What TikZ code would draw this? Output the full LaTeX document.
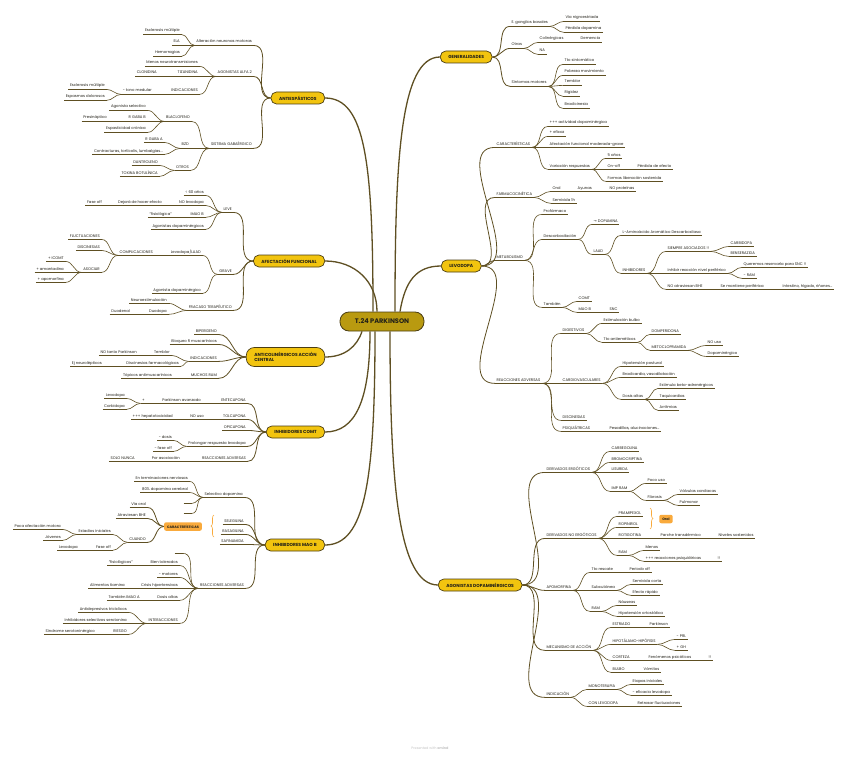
\documentclass[tikz,border=0pt]{standalone}
\usepackage{fontspec}
\setmainfont{Poppins}
\newfontfamily\arrowfont{DejaVu Sans}
\usetikzlibrary{decorations.pathreplacing}
\definecolor{mapink}{HTML}{222018}
\definecolor{mapline}{HTML}{5E4F22}
\definecolor{mapedge}{HTML}{4A3D12}
\definecolor{mapgold}{HTML}{F2C40F}
\definecolor{mapolive}{HTML}{B99A10}
\definecolor{maporange}{HTML}{F9AA3C}
\definecolor{mapmuted}{HTML}{C4C4C4}
\newcommand\leafsize{\fontsize{3.8}{4.4}\selectfont}
\newcommand\branchsize{\fontsize{4.4}{5.6}\selectfont}
\newcommand\centresize{\fontsize{6.6}{8}\selectfont}
\newcommand\notesize{\fontsize{3.4}{4}\selectfont}
\tikzset{
  trunkline/.style={draw=mapline, line width=1.3pt},
  limbline/.style={draw=mapline, line width=.8pt},
  twigline/.style={draw=mapline, line width=.6pt},
  maptopic/.style={font=\leafsize, text=mapink, inner xsep=1.5pt, inner ysep=1.3pt,
    text height=2.9pt, text depth=.9pt,
    append after command={(\tikzlastnode.south west) edge[twigline] (\tikzlastnode.south east)}},
  topicR/.style={maptopic, anchor=west},
  topicL/.style={maptopic, anchor=east},
  blankR/.style={topicR, minimum width=8pt},
  blankL/.style={topicL, minimum width=8pt},
  branch/.style={draw=mapedge, fill=mapgold, line width=.7pt, rounded corners=5.5pt,
    font=\branchsize\bfseries, text=mapink, inner xsep=8pt, inner ysep=2pt,
    minimum height=12pt},
  centre/.style={draw=mapedge, fill=mapolive, line width=.8pt, rounded corners=9pt,
    font=\centresize\bfseries, text=mapink, minimum width=84pt, minimum height=19pt},
  summary/.style={fill=maporange, rounded corners=2pt, font=\notesize\bfseries,
    text=mapink, inner xsep=3pt, inner ysep=1.5pt, minimum height=8.5pt},
  summarybrace/.style={draw=maporange, line width=.6pt, decorate,
    decoration={brace, amplitude=3pt}}
}

\begin{document}
\begin{tikzpicture}[x=1pt,y=-1pt]
  \useasboundingbox[fill=white] (0,0) rectangle (848,757);

  \node[centre] (root) at (382,321.5) {T.24 PARKINSON};

  % right: GENERALIDADES
  \node[branch, anchor=west] (gen) at (440,57) {GENERALIDADES};
  \node[topicR] (g1) at (510,23) {E. ganglios basales};
  \node[topicR] (g11) at (564,18) {Vía nigroestriada};
  \node[topicR] (g12) at (564,29) {Pérdida dopamina};
  \node[topicR] (g2) at (510,45) {Otras};
  \node[topicR] (g21) at (538,39) {Colinérgicas};
  \node[topicR] (g211) at (579,39) {Demencia};
  \node[topicR] (g22) at (538,51) {NA};
  \node[topicR] (g3) at (510,83) {Síntomas motores};
  \node[topicR] (g31) at (563,61) {Tto sintomático};
  \node[topicR] (g32) at (563,72) {Pobreza movimiento};
  \node[topicR] (g33) at (563,82) {Temblor};
  \node[topicR] (g34) at (563,93) {Rigidez};
  \node[topicR] (g35) at (563,105) {Bradicinesia};

  % right: LEVODOPA
  \node[branch, anchor=west] (lev) at (441,266) {LEVODOPA};
  \node[topicR] (l1) at (495,144) {CARACTERÍSTICAS};
  \node[topicR] (l11) at (548,123) {+++ actividad dopaminérgica};
  \node[topicR] (l12) at (548,133) {+ eficaz};
  \node[topicR] (l13) at (548,144) {Afectación funcional moderada-grave};
  \node[topicR] (l14) at (548,166) {Variación respuestas};
  \node[topicR] (l141) at (606,155) {5 años};
  \node[topicR] (l142) at (606,166) {On-off};
  \node[topicR] (l1421) at (636,166) {Pérdida de efecto};
  \node[topicR] (l143) at (606,178) {Formas liberación sostenida};
  \node[topicR] (l2) at (495,194) {FARMACOCINÉTICA};
  \node[topicR] (l21) at (551,188) {Oral};
  \node[topicR] (l211) at (576,188) {Ayunas};
  \node[topicR] (l2111) at (608,188) {NO proteínas};
  \node[topicR] (l22) at (551,200) {Semivida 1h};
  \node[topicR] (l3) at (495,257) {METABOLISMO};
  \node[topicR] (l31) at (542,211) {Profármaco};
  \node[topicR] (l32) at (542,236) {Descarboxilación};
  \node[topicR] (l321) at (592,221) {{\arrowfont →} DOPAMINA};
  \node[topicR] (l322) at (592,251) {LAAD};
  \node[topicR] (l3221) at (621,232) {L-Aminoácido Aromático Descarboxilasa};
  \node[topicR] (l3222) at (621,270) {INHIBIDORES};
  \node[topicR] (l32221) at (666,248) {SIEMPRE ASOCIADOS !!};
  \node[topicR] (l32221a) at (729,243) {CARBIDOPA};
  \node[topicR] (l32221b) at (729,253) {BENSERAZIDA};
  \node[topicR] (l32222) at (666,270) {Inhibir reacción nivel periférico};
  \node[topicR] (l32222a) at (742,264) {Queremos reservarla para SNC !!};
  \node[topicR] (l32222b) at (742,275) {- RAM};
  \node[topicR] (l32223) at (666,286) {NO atraviesan BHE};
  \node[topicR] (l32223a) at (719,286) {Se mantiene periférica};
  \node[topicR] (l32223b) at (781,286) {Intestino, hígado, riñones...};
  \node[topicR] (l33) at (542,304) {También};
  \node[topicR] (l331) at (577,298) {COMT};
  \node[topicR] (l332) at (577,309) {MAO B};
  \node[topicR] (l3321) at (608,309) {SNC};
  \node[topicR] (l4) at (495,380) {REACCIONES ADVERSAS};
  \node[topicR] (l41) at (561,330) {DIGESTIVOS};
  \node[topicR] (l411) at (602,320) {Estimulación bulbo};
  \node[topicR] (l412) at (602,339) {Tto antieméticos};
  \node[topicR] (l4121) at (650,331) {DOMPERIDONA};
  \node[topicR] (l4122) at (650,347) {METOCLOPRAMIDA};
  \node[topicR] (l41221) at (706,342) {NO uso};
  \node[topicR] (l41222) at (706,353) {Dopaminérgico};
  \node[topicR] (l42) at (561,380) {CARDIOVASCULARES};
  \node[topicR] (l421) at (621,363) {Hipotensión postural};
  \node[topicR] (l422) at (621,374) {Bradicardia, vasodilatación};
  \node[topicR] (l423) at (621,396) {Dosis altas};
  \node[topicR] (l4231) at (658,385) {Estimula beta-adrenérgicos};
  \node[topicR] (l4232) at (658,396) {Taquicardias};
  \node[topicR] (l4233) at (658,407) {Arritmias};
  \node[topicR] (l43) at (561,417) {DISCINESIAS};
  \node[topicR] (l44) at (561,428) {PSIQUIÁTRICAS};
  \node[topicR] (l441) at (608,428) {Pesadillas, alucinaciones...};

  % right: AGONISTAS DOPAMINERGICOS
  \node[branch, anchor=west] (ago) at (438,585) {AGONISTAS DOPAMINÉRGICOS};
  \node[topicR] (a1) at (545,469) {DERIVADOS ERGÓTICOS};
  \node[topicR] (a11) at (610,448) {CARBEGOLINA};
  \node[topicR] (a12) at (610,459) {BROMOCRIPTINA};
  \node[topicR] (a13) at (610,469) {LISURIDA};
  \node[topicR] (a14) at (610,488) {IMP RAM};
  \node[topicR] (a141) at (646,480) {Poco uso};
  \node[topicR] (a142) at (646,497) {Fibrosis};
  \node[topicR] (a1421) at (678,491) {Válvulas cardiacas};
  \node[topicR] (a1422) at (678,502) {Pulmonar};
  \node[topicR] (a2) at (545,535) {DERIVADOS NO ERGÓTICOS};
  \node[topicR] (a21) at (617,513) {PRAMIPEXOL};
  \node[topicR] (a22) at (617,524) {ROPINIROL};
  \node[topicR] (a23) at (617,535) {ROTIGOTINA};
  \node[topicR] (a231) at (659,535) {Parche transdérmico};
  \node[topicR] (a2311) at (717,535) {Niveles sostenidos};
  \node[topicR] (a24) at (617,552) {RAM};
  \node[topicR] (a241) at (644,547) {Menos};
  \node[topicR] (a242) at (644,558) {+++ reacciones psiquiátricas};
  \node[topicR] (a2421) at (716,558) {!!};
  \node[summary] (oral) at (666,519) {Oral};
  \node[topicR] (a3) at (545,587) {APOMORFINA};
  \node[topicR] (a31) at (590,569) {Tto rescate};
  \node[topicR] (a311) at (628,569) {Periodo off};
  \node[topicR] (a32) at (590,587) {Subcutánea};
  \node[topicR] (a321) at (631,581) {Semivida corta};
  \node[topicR] (a322) at (631,592) {Efecto rápido};
  \node[topicR] (a33) at (590,608) {RAM};
  \node[topicR] (a331) at (617,602) {Náuseas};
  \node[topicR] (a332) at (617,613) {Hipotensión ortostática};
  \node[topicR] (a4) at (545,647) {MECANISMO DE ACCIÓN};
  \node[topicR] (a41) at (611,624) {ESTRIADO};
  \node[topicR] (a411) at (648,624) {Parkinson};
  \node[topicR] (a42) at (611,641) {HIPOTÁLAMO-HIPÓFISIS};
  \node[topicR] (a421) at (675,636) {- PRL};
  \node[topicR] (a422) at (675,647) {+ GH};
  \node[topicR] (a43) at (611,657) {CORTEZA};
  \node[topicR] (a431) at (647,657) {Fenómenos psicóticos};
  \node[topicR] (a4311) at (707,657) {!!};
  \node[topicR] (a44) at (611,669) {BULBO};
  \node[topicR] (a441) at (642,669) {Vómitos};
  \node[topicR] (a5) at (545,694) {INDICACIÓN};
  \node[topicR] (a51) at (587,686) {MONOTERAPIA};
  \node[topicR] (a511) at (631,681) {Etapas iniciales};
  \node[topicR] (a512) at (631,692) {- eficacia levodopa};
  \node[topicR] (a52) at (587,703) {CON LEVODOPA};
  \node[topicR] (a521) at (636,703) {Retrasar fluctuaciones};

  % left: ANTIESPASTICOS
  \node[branch, anchor=east] (anti) at (325,98) {ANTIESPÁSTICOS};
  \node[topicL] (s1) at (253.5,42) {Alteración neuronas motoras};
  \node[topicL] (s11) at (181.5,31) {Esclerosis múltiple};
  \node[topicL] (s12) at (181.5,42) {ELA};
  \node[topicL] (s13) at (181.5,53) {Hemorragias};
  \node[topicL] (s2) at (253.5,73) {AGONISTAS ALFA 2};
  \node[topicL] (s21) at (199.5,63) {Menos neurotransmisiones};
  \node[topicL] (s22) at (199.5,73) {TIZANIDINA};
  \node[topicL] (s221) at (158.5,73) {CLONIDINA};
  \node[topicL] (s23) at (199.5,91) {INDICACIONES};
  \node[topicL] (s231) at (153.5,91) {- tono medular};
  \node[topicL] (s2311) at (106.5,86) {Esclerosis múltiple};
  \node[topicL] (s2312) at (106.5,97) {Espasmos dolorosos};
  \node[topicL] (s3) at (253.5,145) {SISTEMA GABAÉRGICO};
  \node[topicL] (s31) at (191.5,118) {BLACLOFENO};
  \node[topicL] (s311) at (147.5,107) {Agonista selectivo};
  \node[topicL] (s312) at (147.5,118) {R GABA B};
  \node[topicL] (s3121) at (108.5,118) {Presináptico};
  \node[topicL] (s313) at (147.5,129) {Espasticidad crónica};
  \node[topicL] (s32) at (190.5,145) {BZD};
  \node[topicL] (s321) at (164.5,139) {R GABA A};
  \node[topicL] (s322) at (164.5,151) {Contracturas, tortícolis, lumbalgias...};
  \node[topicL] (s33) at (190.5,167) {OTROS};
  \node[topicL] (s331) at (159.5,162) {DANTROLENO};
  \node[topicL] (s332) at (159.5,173) {TOXINA BOTULÍNICA};

  % left: AFECTACION FUNCIONAL
  \node[branch, anchor=east] (afec) at (325,261) {AFECTACIÓN FUNCIONAL};
  \node[topicL] (f1) at (233.5,209) {LEVE};
  \node[topicL] (f11) at (205.5,192) {< 60 años};
  \node[topicL] (f12) at (205.5,202) {NO levodopa};
  \node[topicL] (f121) at (163.5,202) {Dejará de hacer efecto};
  \node[topicL] (f1211) at (103.5,202) {Fase off};
  \node[topicL] (f13) at (205.5,214) {IMAO B};
  \node[topicL] (f131) at (173.5,214) {“fisiológica”};
  \node[topicL] (f14) at (205.5,226) {Agonistas dopaminérgicos};
  \node[topicL] (f2) at (233.5,271) {GRAVE};
  \node[topicL] (f21) at (202.5,252) {Levodopa/LAAD};
  \node[topicL] (f211) at (154.5,252) {COMPLICACIONES};
  \node[topicL] (f2111) at (101.5,236) {FLUCTUACIONES};
  \node[topicL] (f2112) at (101.5,247) {DISCINESIAS};
  \node[topicL] (f2113) at (101.5,269) {ASOCIAR};
  \node[topicL] (f21131) at (65.5,258) {+ ICOMT};
  \node[topicL] (f21132) at (65.5,269) {+ amantadina};
  \node[topicL] (f21133) at (65.5,279) {+ apomorfina};
  \node[topicL] (f22) at (202.5,290) {Agonista dopaminérgico};
  \node[topicL] (f3) at (233.5,307) {FRACASO TERAPÉUTICO};
  \node[topicL] (f31) at (168.5,300) {Neuroestimulación};
  \node[topicL] (f32) at (168.5,311) {Duodopa};
  \node[topicL] (f321) at (131.5,311) {Duodenal};

  % left: ANTICOLINERGICOS
  \node[branch, anchor=east, align=left, minimum height=19pt, rounded corners=8pt]
    (acol) at (325,357) {ANTICOLINÉRGICOS ACCIÓN\\CENTRAL};
  \node[topicL] (c1) at (218.5,331) {BIPERIDENO};
  \node[topicL] (c2) at (218.5,341) {Bloqueo R muscarínicos};
  \node[topicL] (c3) at (218.5,358) {INDICACIONES};
  \node[topicL] (c31) at (171.5,352) {Temblor};
  \node[topicL] (c311) at (138.5,352) {NO tanto Parkinson};
  \node[topicL] (c32) at (180.5,363) {Discinesias farmacológicas};
  \node[topicL] (c321) at (103.5,363) {Ej neurolépticos};
  \node[topicL] (c4) at (218.5,375) {MUCHOS RAM};
  \node[topicL] (c41) at (173.5,375) {Tópicos antimuscarínicos};

  % left: INHIBIDORES COMT
  \node[branch, anchor=east] (comt) at (325,432) {INHIBIDORES COMT};
  \node[topicL] (t1) at (247.5,400) {ENTECAPONA};
  \node[topicL] (t11) at (202.5,400) {Parkinson avanzado};
  \node[topicL] (t111) at (146.5,400) {+};
  \node[topicL] (t1111) at (126.5,395) {Levodopa};
  \node[topicL] (t1112) at (126.5,406) {Carbidopa};
  \node[topicL] (t2) at (247.5,416) {TOLCAPONA};
  \node[topicL] (t21) at (205.5,416) {NO uso};
  \node[topicL] (t211) at (174.5,416) {+++ hepatotoxicidad};
  \node[topicL] (t3) at (247.5,427) {OPICAPONA};
  \node[topicL] (t4) at (247.5,443) {Prolongar respuesta levodopa};
  \node[topicL] (t41) at (173.5,437) {- dosis};
  \node[topicL] (t42) at (173.5,448) {- fase off};
  \node[topicL] (t5) at (247.5,458) {REACCIONES ADVERSAS};
  \node[topicL] (t51) at (181.5,458) {Por asociación};
  \node[topicL] (t511) at (136.5,458) {SOLO NUNCA};

  % left: INHIBIDORES MAO B
  \node[branch, anchor=east] (mao) at (325,545) {INHIBIDORES MAO B};
  \node[topicL] (m1) at (244.5,494) {Selectivo dopamina};
  \node[topicL] (m11) at (189.5,478) {En terminaciones nerviosas};
  \node[topicL] (m12) at (189.5,489) {80\% dopamina cerebral};
  \node[blankL] (m13) at (192,500) {};
  \node[blankL] (m14) at (192,510) {};
  \node[topicL] (m2) at (245.5,521) {SELEGILINA};
  \node[topicL] (m3) at (245.5,531) {RASAGILINA};
  \node[topicL] (m4) at (245.5,541) {SAFINAMIDA};
  \node[summary] (msum) at (183,526.5) {CARACTERÍSTICAS};
  \node[topicL] (ms1) at (147.5,504) {Vía oral};
  \node[topicL] (ms2) at (147.5,515) {Atraviesan BHE};
  \node[topicL] (ms3) at (147.5,539) {CUANDO};
  \node[topicL] (ms31) at (112.5,531) {Estadios iniciales};
  \node[topicL] (ms311) at (62.5,526) {Poca afectación motora};
  \node[topicL] (ms312) at (62.5,537) {Jóvenes};
  \node[topicL] (ms32) at (112.5,547) {Fase off};
  \node[topicL] (ms321) at (79.5,547) {Levodopa};
  \node[topicL] (m5) at (245.5,585) {REACCIONES ADVERSAS};
  \node[blankL] (m51) at (183,550) {};
  \node[topicL] (m52) at (179.5,562) {Bien tolerados};
  \node[topicL] (m521) at (134.5,562) {“fisiológicos”};
  \node[topicL] (m53) at (179.5,574) {- motores};
  \node[topicL] (m54) at (179.5,585) {Crisis hipertensivas};
  \node[topicL] (m541) at (126.5,585) {Alimentos tiamina};
  \node[topicL] (m55) at (179.5,597) {Dosis altas};
  \node[topicL] (m551) at (141.5,597) {También IMAO A};
  \node[topicL] (m56) at (179.5,620) {INTERACCIONES};
  \node[topicL] (m561) at (128.5,609) {Antidepresivos tricíclicos};
  \node[topicL] (m562) at (128.5,620) {Inhibidores selectivos serotonina};
  \node[topicL] (m563) at (128.5,631) {RIESGO};
  \node[topicL] (m5631) at (96.5,631) {Síndrome serotoninérgico};

  % summary braces
  \draw[summarybrace] (214,537) -- (214,515);
  \draw[summarybrace] (650,508) -- (650,529);

  % trunk lines from the centre
  \draw[trunkline] ([xshift=13pt]root.north) .. controls +(0,-150) and +(-40,0) .. (gen.west);
  \draw[trunkline] ([xshift=18pt]root.north) .. controls +(5,-30) and +(-25,0) .. (lev.west);
  \draw[trunkline] ([xshift=8pt]root.south) .. controls +(0,150) and +(-40,0) .. (ago.west);
  \draw[trunkline] ([xshift=-9pt]root.north) .. controls +(0,-150) and +(40,0) .. (anti.east);
  \draw[trunkline] ([xshift=-5pt]root.north) .. controls +(0,-30) and +(30,0) .. (afec.east);
  \draw[trunkline] ([xshift=-20pt]root.south) .. controls +(-5,15) and +(20,0) .. (acol.east);
  \draw[trunkline] ([xshift=-12pt]root.south) .. controls +(0,70) and +(30,0) .. (comt.east);
  \draw[trunkline] ([xshift=-7pt]root.south) .. controls +(0,150) and +(40,0) .. (mao.east);

  % first level
  \foreach \p/\c in {gen/g1,gen/g2,gen/g3,lev/l1,lev/l2,lev/l3,lev/l4,
      ago/a1,ago/a2,ago/a3,ago/a4,ago/a5}
    \draw[limbline] (\p.east) to[out=0,in=180] (\c.south west);
  \foreach \p/\c in {anti/s1,anti/s2,anti/s3,afec/f1,afec/f2,afec/f3,
      acol/c1,acol/c2,acol/c3,acol/c4,comt/t1,comt/t2,comt/t3,comt/t4,comt/t5,
      mao/m1,mao/m2,mao/m3,mao/m4,mao/m5,msum/ms1,msum/ms2,msum/ms3}
    \draw[limbline] (\p.west) to[out=180,in=0] (\c.south east);

  % deeper levels, right
  \foreach \p/\c in {g1/g11,g1/g12,g2/g21,g21/g211,g2/g22,g3/g31,g3/g32,g3/g33,g3/g34,g3/g35,
      l1/l11,l1/l12,l1/l13,l1/l14,l14/l141,l14/l142,l142/l1421,l14/l143,
      l2/l21,l21/l211,l211/l2111,l2/l22,
      l3/l31,l3/l32,l32/l321,l32/l322,l322/l3221,l322/l3222,
      l3222/l32221,l32221/l32221a,l32221/l32221b,l3222/l32222,l32222/l32222a,
      l32222/l32222b,l3222/l32223,l32223/l32223a,l32223a/l32223b,
      l3/l33,l33/l331,l33/l332,l332/l3321,
      l4/l41,l41/l411,l41/l412,l412/l4121,l412/l4122,l4122/l41221,l4122/l41222,
      l4/l42,l42/l421,l42/l422,l42/l423,l423/l4231,l423/l4232,l423/l4233,
      l4/l43,l4/l44,l44/l441,
      a1/a11,a1/a12,a1/a13,a1/a14,a14/a141,a14/a142,a142/a1421,a142/a1422,
      a2/a21,a2/a22,a2/a23,a23/a231,a231/a2311,a2/a24,a24/a241,a24/a242,a242/a2421,
      a3/a31,a31/a311,a3/a32,a32/a321,a32/a322,a3/a33,a33/a331,a33/a332,
      a4/a41,a41/a411,a4/a42,a42/a421,a42/a422,a4/a43,a43/a431,a431/a4311,
      a4/a44,a44/a441,a5/a51,a51/a511,a51/a512,a5/a52,a52/a521}
    \draw[twigline] (\p.south east) to[out=0,in=180] (\c.south west);

  % deeper levels, left
  \foreach \p/\c in {s1/s11,s1/s12,s1/s13,s2/s21,s2/s22,s22/s221,s2/s23,s23/s231,
      s231/s2311,s231/s2312,s3/s31,s31/s311,s31/s312,s312/s3121,s31/s313,
      s3/s32,s32/s321,s32/s322,s3/s33,s33/s331,s33/s332,
      f1/f11,f1/f12,f12/f121,f121/f1211,f1/f13,f13/f131,f1/f14,
      f2/f21,f21/f211,f211/f2111,f211/f2112,f211/f2113,f2113/f21131,
      f2113/f21132,f2113/f21133,f2/f22,f3/f31,f3/f32,f32/f321,
      c3/c31,c31/c311,c3/c32,c32/c321,c4/c41,
      t1/t11,t11/t111,t111/t1111,t111/t1112,t2/t21,t21/t211,t4/t41,t4/t42,
      t5/t51,t51/t511,
      m1/m11,m1/m12,m1/m13,m1/m14,ms3/ms31,ms31/ms311,ms31/ms312,ms3/ms32,
      ms32/ms321,m5/m51,m5/m52,m52/m521,m5/m53,m5/m54,m54/m541,m5/m55,
      m55/m551,m5/m56,m56/m561,m56/m562,m56/m563,m563/m5631}
    \draw[twigline] (\p.south west) to[out=180,in=0] (\c.south east);

  \node[font=\notesize, text=mapmuted] (credit) at (430,748) {Presented with \textbf{xmind}};
\end{tikzpicture}
\end{document}
